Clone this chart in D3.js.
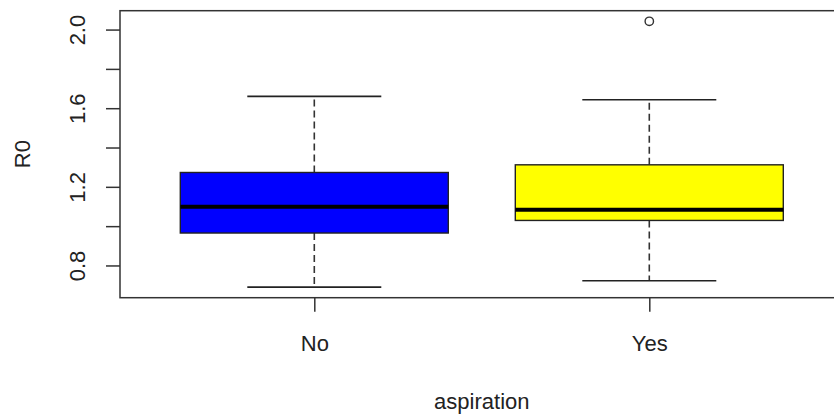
<!DOCTYPE html>
<html>
<head>
<meta charset="utf-8">
<script src="https://cdn.jsdelivr.net/npm/d3@7"></script>
<style>
  body { margin:0; background:#fff; }
  text { font-family:"Liberation Sans", Arial, sans-serif; fill:#222; }
</style>
</head>
<body>
<div id="canvas"></div>
<script>
// box stats
var groups = ["No", "Yes"];
var lowerWhisker = [0.69, 0.722];
var q1 = [0.965, 1.029];
var median = [1.099, 1.083];
var q3 = [1.273, 1.312];
var upperWhisker = [1.66, 1.643];
var outliers = [[], [2.042]];
var boxFill = ["#0000ff", "#ffff00"];

var yTicks = [0.8, 1.0, 1.2, 1.4, 1.6, 1.8, 2.0];
var yTickLabels = ["0.8", "", "1.2", "", "1.6", "", "2.0"];

var W = 834, H = 414;
var m = {t:10.7, b:297.7, l:120, r:843.6};

var svg = d3.select('#canvas').append('svg')
    .attr('width', W).attr('height', H);

var boxes = groups.map(function(g, i){
  return {name:g, i:i+1, lo:lowerWhisker[i], q1:q1[i], med:median[i],
          q3:q3[i], hi:upperWhisker[i], out:outliers[i], fill:boxFill[i]};
});

var x = d3.scaleLinear().domain([0.42, 2.58]).range([m.l, m.r]);
var y = d3.scaleLinear().domain([0.636, 2.096]).range([m.b, m.t]);

var boxW = 0.8, capW = 0.4;

var g = svg.selectAll('.box').data(boxes).enter().append('g').attr('class','box');

// whiskers
g.append('line')
  .attr('x1', function(d){return x(d.i)}).attr('x2', function(d){return x(d.i)})
  .attr('y1', function(d){return y(d.q3)}).attr('y2', function(d){return y(d.hi)})
  .attr('stroke','#333').attr('stroke-width',1.6).attr('stroke-dasharray','7,4');
g.append('line')
  .attr('x1', function(d){return x(d.i)}).attr('x2', function(d){return x(d.i)})
  .attr('y1', function(d){return y(d.q1)}).attr('y2', function(d){return y(d.lo)})
  .attr('stroke','#333').attr('stroke-width',1.6).attr('stroke-dasharray','7,4');
// caps
['hi','lo'].forEach(function(k){
  g.append('line')
    .attr('x1', function(d){return x(d.i - capW/2)}).attr('x2', function(d){return x(d.i + capW/2)})
    .attr('y1', function(d){return y(d[k])}).attr('y2', function(d){return y(d[k])})
    .attr('stroke','#222').attr('stroke-width',1.6);
});
// box
g.append('rect')
  .attr('x', function(d){return x(d.i - boxW/2)})
  .attr('width', function(d){return x(d.i + boxW/2) - x(d.i - boxW/2)})
  .attr('y', function(d){return y(d.q3)})
  .attr('height', function(d){return y(d.q1) - y(d.q3)})
  .attr('fill', function(d){return d.fill})
  .attr('stroke','#222').attr('stroke-width',1.4);
// median
g.append('line')
  .attr('x1', function(d){return x(d.i - boxW/2)}).attr('x2', function(d){return x(d.i + boxW/2)})
  .attr('y1', function(d){return y(d.med)}).attr('y2', function(d){return y(d.med)})
  .attr('stroke','#000').attr('stroke-width',4);
// outliers
g.selectAll('circle').data(function(d){return d.out.map(function(v){return {i:d.i, v:v}})})
  .enter().append('circle')
  .attr('cx', function(d){return x(d.i)}).attr('cy', function(d){return y(d.v)})
  .attr('r',4.2).attr('fill','none').attr('stroke','#333').attr('stroke-width',1.4);

// frame
svg.append('rect')
  .attr('x', m.l).attr('y', m.t)
  .attr('width', m.r - m.l).attr('height', m.b - m.t)
  .attr('fill','none').attr('stroke','#333').attr('stroke-width',1.5);

// y axis
var axisY = d3.axisLeft(y).tickValues(yTicks).tickSize(14)
  .tickFormat(function(d, i){return yTickLabels[i]});
var gy = svg.append('g').attr('transform','translate(' + m.l + ',0)').call(axisY);
gy.select('.domain').remove();
gy.selectAll('line').attr('stroke','#333').attr('stroke-width',1.5);
gy.selectAll('text')
  .attr('x',0).attr('y',-35).attr('dy',null)
  .attr('transform','rotate(-90)')
  .attr('text-anchor','middle')
  .style('font-size','22px').attr('fill','#222');

// x axis
var axisX = d3.axisBottom(x).tickValues([1, 2]).tickSize(14)
  .tickFormat(function(d){return groups[d-1]});
var gx = svg.append('g').attr('transform','translate(0,' + m.b + ')').call(axisX);
gx.select('.domain').remove();
gx.selectAll('line').attr('stroke','#333').attr('stroke-width',1.5);
gx.selectAll('text')
  .attr('y',53).attr('dy',null)
  .style('font-size','22px').attr('fill','#222');

// axis titles
svg.append('text')
  .attr('x', (m.l + m.r)/2).attr('y',409)
  .attr('text-anchor','middle').style('font-size','22px')
  .text('aspiration');
svg.append('text')
  .attr('transform','translate(30,' + (m.t + m.b)/2 + ') rotate(-90)')
  .attr('text-anchor','middle').style('font-size','22px')
  .text('R0');
</script>
</body>
</html>
